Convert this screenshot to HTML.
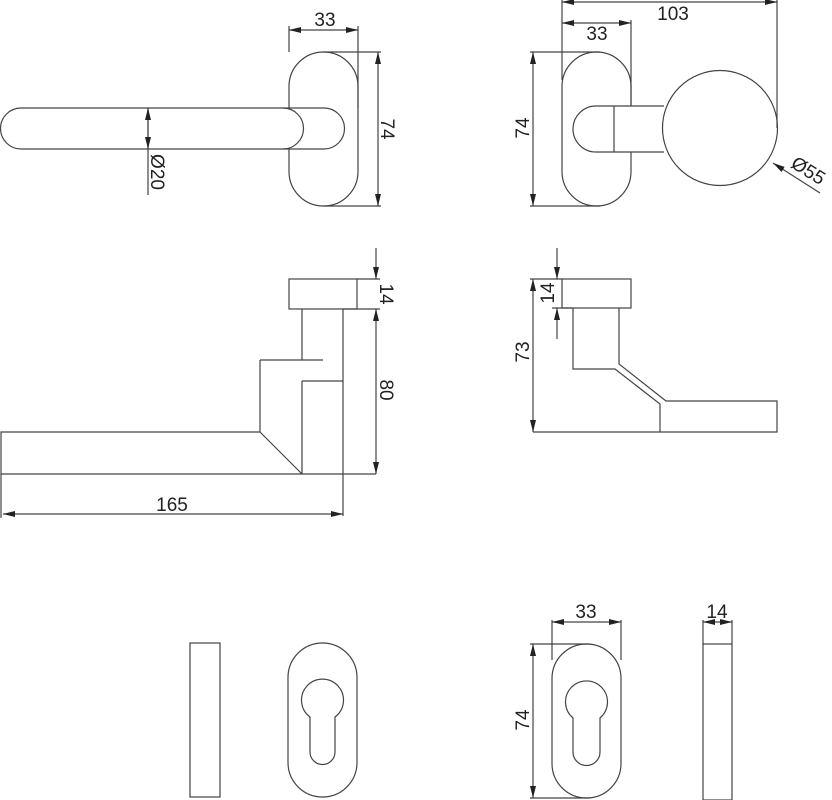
<!DOCTYPE html>
<html><head><style>html,body{margin:0;padding:0;background:#fff}svg{display:block}
text{font-family:"Liberation Sans",sans-serif;font-size:19px;fill:#222}</style></head>
<body>
<svg width="832" height="800" viewBox="0 0 832 800" xmlns="http://www.w3.org/2000/svg">
<defs>
<marker id="a" viewBox="0 0 12 6" refX="12" refY="3" markerWidth="12" markerHeight="6" orient="auto-start-reverse" markerUnits="userSpaceOnUse"><path d="M0,0 L12,3 L0,6 Z" fill="#222"/></marker>
</defs>
<g fill="none" stroke="#444" stroke-width="1.2">
<!-- TOP LEFT -->
<path d="M289,108 V86.5 A34.5,34.5 0 0 1 358,86.5 V171.5 A34.5,34.5 0 0 1 289,171.5 V149"/>
<path d="M21,108 H324 A20.5,20.5 0 0 1 324,149 H21 A20.5,20.5 0 0 1 21,108 Z"/>
<path d="M283,108 A20.5,20.5 0 0 1 283,149"/>
<line x1="289" y1="26" x2="289" y2="52"/><line x1="358" y1="26" x2="358" y2="108"/>
<line x1="289" y1="30" x2="358" y2="30" marker-start="url(#a)" marker-end="url(#a)"/>
<line x1="324" y1="52" x2="381" y2="52"/><line x1="324" y1="206" x2="381" y2="206"/>
<line x1="378" y1="52" x2="378" y2="206" marker-start="url(#a)" marker-end="url(#a)"/>
<line x1="148" y1="108" x2="148" y2="195"/>
<line x1="148" y1="128" x2="148" y2="108" marker-end="url(#a)"/>
<line x1="148" y1="128" x2="148" y2="149" marker-end="url(#a)"/>
<!-- TOP RIGHT -->
<path d="M631,106 V86.5 A34.5,34.5 0 0 0 562,86.5 V171.5 A34.5,34.5 0 0 0 631,171.5 V152"/>
<path d="M664,106 H596 A23,23 0 0 0 596,152 H664"/>
<line x1="614" y1="106" x2="614" y2="152"/>
<circle cx="720" cy="128" r="57.5"/>
<line x1="562" y1="0" x2="562" y2="80"/><line x1="631" y1="20" x2="631" y2="106"/><line x1="777" y1="0" x2="777" y2="128"/>
<line x1="562" y1="2" x2="777" y2="2" marker-start="url(#a)" marker-end="url(#a)"/>
<line x1="562" y1="23" x2="631" y2="23" marker-start="url(#a)" marker-end="url(#a)"/>
<line x1="530" y1="52" x2="600" y2="52"/><line x1="530" y1="206" x2="600" y2="206"/>
<line x1="533" y1="52" x2="533" y2="206" marker-start="url(#a)" marker-end="url(#a)"/>
<line x1="820" y1="193" x2="773" y2="163" marker-end="url(#a)"/>
<!-- MIDDLE LEFT -->
<rect x="289" y="279" width="68" height="30"/>
<path d="M302,309 V360 M260,360 H323 M343,309 V516 M302,381 H343 M302,381 V474 M260,360 V432 H1 V474 H376 M260,432 L302,474"/>
<line x1="1" y1="474" x2="1" y2="518"/>
<line x1="357" y1="279" x2="380" y2="279"/><line x1="343" y1="309" x2="380" y2="309"/>
<line x1="376" y1="248" x2="376" y2="279" marker-end="url(#a)"/>
<line x1="376" y1="309" x2="376" y2="474" marker-start="url(#a)" marker-end="url(#a)"/>
<line x1="3" y1="514" x2="343" y2="514" marker-start="url(#a)" marker-end="url(#a)"/>
<!-- MIDDLE RIGHT -->
<rect x="562" y="279" width="69" height="29"/>
<path d="M573,308 V369 H615 L660,404 V432 M619,308 V364 L666,401 H777 V432 H533"/>
<line x1="530" y1="279" x2="562" y2="279"/><line x1="552" y1="308" x2="573" y2="308"/>
<line x1="533" y1="279" x2="533" y2="432" marker-start="url(#a)" marker-end="url(#a)"/>
<line x1="557" y1="248" x2="557" y2="279" marker-end="url(#a)"/>
<line x1="557" y1="339" x2="557" y2="308" marker-end="url(#a)"/>
<!-- BOTTOM LEFT -->
<rect x="190" y="643" width="30" height="154"/>
<path d="M288,677.5 A34.5,34.5 0 0 1 357,677.5 V762.5 A34.5,34.5 0 0 1 288,762.5 Z"/>
<path d="M310,717 A21,21 0 1 1 335,717 V752 A12.5,12.5 0 0 1 310,752 Z"/>
<!-- BOTTOM RIGHT -->
<path d="M552,678.5 A34.5,34.5 0 0 1 621,678.5 V763.5 A34.5,34.5 0 0 1 552,763.5 Z"/>
<path d="M573,718 A21,21 0 1 1 600,718 V752 A13.5,13.5 0 0 1 573,752 Z"/>
<line x1="552" y1="620" x2="552" y2="660"/><line x1="621" y1="620" x2="621" y2="660"/>
<line x1="552" y1="622" x2="621" y2="622" marker-start="url(#a)" marker-end="url(#a)"/>
<line x1="530" y1="644" x2="590" y2="644"/><line x1="530" y1="798" x2="590" y2="798"/>
<line x1="533" y1="644" x2="533" y2="798" marker-start="url(#a)" marker-end="url(#a)"/>
<rect x="703" y="644" width="29" height="156"/>
<line x1="703" y1="620" x2="703" y2="644"/><line x1="732" y1="620" x2="732" y2="644"/>
<line x1="703" y1="622" x2="732" y2="622" marker-start="url(#a)" marker-end="url(#a)"/>
</g>
<g>
<text x="325" y="26" text-anchor="middle">33</text>
<text transform="translate(381,129) rotate(90)" text-anchor="middle">74</text>
<text transform="translate(151,172) rotate(90)" text-anchor="middle">Ø20</text>
<text x="673" y="20" text-anchor="middle">103</text>
<text x="597" y="40" text-anchor="middle">33</text>
<text transform="translate(529,128) rotate(-90)" text-anchor="middle">74</text>
<text transform="translate(805,176) rotate(32)" text-anchor="middle">Ø55</text>
<text transform="translate(380,294) rotate(90)" text-anchor="middle">14</text>
<text transform="translate(380,390) rotate(90)" text-anchor="middle">80</text>
<text x="172" y="511" text-anchor="middle">165</text>
<text transform="translate(554,293) rotate(-90)" text-anchor="middle">14</text>
<text transform="translate(529,352) rotate(-90)" text-anchor="middle">73</text>
<text x="586" y="618" text-anchor="middle">33</text>
<text transform="translate(529,720) rotate(-90)" text-anchor="middle">74</text>
<text x="717" y="618" text-anchor="middle">14</text>
</g>
</svg>
</body></html>
